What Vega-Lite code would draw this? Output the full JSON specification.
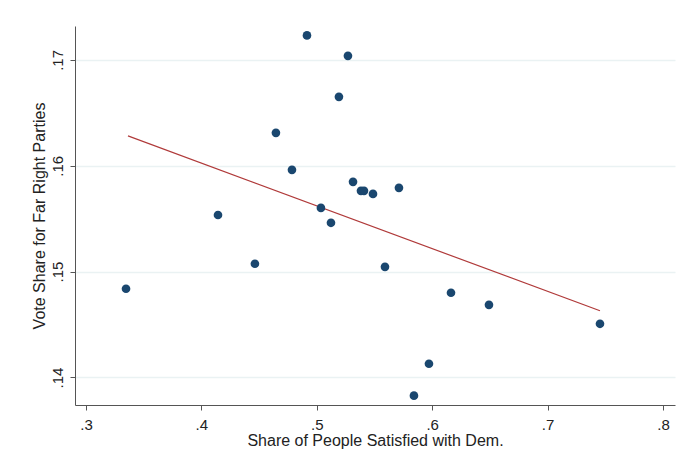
{
  "$schema": "https://vega.github.io/schema/vega-lite/v6.json",
  "width": 600,
  "height": 379,
  "autosize": "none",
  "padding": {"left": 75, "top": 26, "right": 7, "bottom": 57},
  "background": "white",
  "config": {
    "view": {"stroke": null},
    "font": "Liberation Sans"
  },
  "datasets": {
    "points": [
      {"sat": 0.3347, "vote": 0.14838},
      {"sat": 0.4144, "vote": 0.15535},
      {"sat": 0.4464, "vote": 0.15074},
      {"sat": 0.4646, "vote": 0.16311},
      {"sat": 0.4785, "vote": 0.15961},
      {"sat": 0.4915, "vote": 0.17231},
      {"sat": 0.5036, "vote": 0.15602},
      {"sat": 0.5123, "vote": 0.15461},
      {"sat": 0.5192, "vote": 0.16651},
      {"sat": 0.5270, "vote": 0.17038},
      {"sat": 0.5314, "vote": 0.15848},
      {"sat": 0.5383, "vote": 0.15763},
      {"sat": 0.5409, "vote": 0.15763},
      {"sat": 0.5487, "vote": 0.15734},
      {"sat": 0.5591, "vote": 0.15045},
      {"sat": 0.5712, "vote": 0.15791},
      {"sat": 0.5842, "vote": 0.13828},
      {"sat": 0.5972, "vote": 0.14130},
      {"sat": 0.6163, "vote": 0.14800},
      {"sat": 0.6492, "vote": 0.14686},
      {"sat": 0.7454, "vote": 0.14507}
    ],
    "fit": [
      {"sat": 0.3364, "vote": 0.16282},
      {"sat": 0.7454, "vote": 0.14630}
    ]
  },
  "layer": [
    {
      "data": {"name": "fit"},
      "mark": {"type": "line", "color": "#b03a3a", "strokeWidth": 1.2},
      "encoding": {
        "x": {"field": "sat", "type": "quantitative"},
        "y": {"field": "vote", "type": "quantitative"}
      }
    },
    {
      "data": {"name": "points"},
      "mark": {"type": "circle", "color": "#1a476f", "opacity": 1, "size": 75},
      "encoding": {
        "x": {
          "field": "sat", "type": "quantitative",
          "scale": {"domain": [0.2905, 0.8104], "nice": false, "zero": false},
          "axis": {
            "title": "Share of People  Satisfied with Dem.",
            "values": [0.3, 0.4, 0.5, 0.6, 0.7, 0.8],
            "labelExpr": "replace(format(datum.value, '.1f'), '0.', '.')",
            "grid": false,
            "domainColor": "#555555",
            "tickColor": "#555555",
            "tickSize": 5,
            "labelFontSize": 15,
            "labelColor": "#222222",
            "labelPadding": 7,
            "titleFontSize": 16,
            "titleFontWeight": "normal",
            "titleColor": "#222222",
            "titlePadding": 0
          }
        },
        "y": {
          "field": "vote", "type": "quantitative",
          "scale": {"domain": [0.1374, 0.1732], "nice": false, "zero": false},
          "axis": {
            "title": "Vote Share for Far Right Parties",
            "values": [0.14, 0.15, 0.16, 0.17],
            "labelExpr": "replace(format(datum.value, '.2f'), '0.', '.')",
            "grid": true,
            "gridColor": "#eaf2f3",
            "gridWidth": 1.5,
            "domainColor": "#555555",
            "tickColor": "#555555",
            "tickSize": 5,
            "labelAngle": 270,
            "labelAlign": "center",
            "labelBaseline": "bottom",
            "labelFontSize": 15,
            "labelColor": "#222222",
            "labelPadding": 5,
            "titleFontSize": 16,
            "titleFontWeight": "normal",
            "titleColor": "#222222",
            "titlePadding": 3
          }
        }
      }
    }
  ]
}
